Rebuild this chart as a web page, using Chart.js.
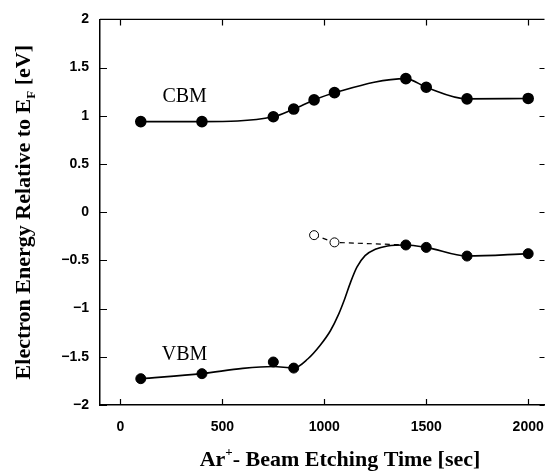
<!DOCTYPE html>
<html>
<head>
<meta charset="utf-8">
<script src="https://cdn.jsdelivr.net/npm/chart.js@4/dist/chart.umd.min.js"></script>
<style>
  html, body { margin: 0; padding: 0; background: #fff; }
  #box { width: 558px; height: 472px; }
</style>
</head>
<body>
<div id="box"><canvas id="bandChart" width="558" height="472"></canvas></div>
<script>
// tick positions
const xTicks = [0, 500, 1000, 1500, 2000];
const yTicks = [-2, -1.5, -1, -0.5, 0, 0.5, 1, 1.5, 2];

// CBM (filled circles, smooth curve through them)
const cbmTimes = [100, 400, 750, 850, 950, 1050, 1400, 1500, 1700, 2000];
const cbmValues = [0.94, 0.94, 0.99, 1.07, 1.165, 1.24, 1.386, 1.296, 1.176, 1.18];

// VBM measured points
const vbmTimes = [100, 400, 750, 850, 1400, 1500, 1700, 2000];
const vbmValues = [-1.727, -1.675, -1.554, -1.617, -0.34, -0.365, -0.455, -0.43];

// VBM guide curve
const vbmCurveTimes = [100, 400, 600, 750, 850, 920, 980, 1030, 1070, 1100, 1130, 1160, 1200, 1250, 1310, 1400, 1500, 1700, 2000];
const vbmCurveValues = [-1.727, -1.675, -1.62, -1.6, -1.617, -1.52, -1.38, -1.23, -1.06, -0.90, -0.72, -0.57, -0.45, -0.385, -0.35, -0.34, -0.365, -0.455, -0.43];

// open circles + dashed link
const openTimes = [950, 1050, 1400];
const openValues = [-0.238, -0.313, -0.34];

const toXY = (xs, ys) => xs.map((x, i) => ({ x: x, y: ys[i] }));

const serif = "'Liberation Serif', 'Times New Roman', serif";
const sans = "'Liberation Sans', Arial, sans-serif";

// inward ticks, top border, titles, band labels
const decorations = {
    id: "decorations",
    afterDraw(chart) {
        const ctx = chart.ctx;
        const area = chart.chartArea;
        const xs = chart.scales.x;
        const ys = chart.scales.y;
        ctx.save();
        ctx.strokeStyle = "#000";
        ctx.lineWidth = 1.2;
        ctx.beginPath();
        // top border
        ctx.moveTo(area.left, area.top);
        ctx.lineTo(area.right, area.top);
        yTicks.forEach(v => {
            const py = Math.round(ys.getPixelForValue(v)) + 0.5;
            ctx.moveTo(area.left, py);
            ctx.lineTo(area.left + 7, py);
            ctx.moveTo(area.right, py);
            ctx.lineTo(area.right - 5, py);
        });
        xTicks.forEach(v => {
            const px = Math.round(xs.getPixelForValue(v)) + 0.5;
            ctx.moveTo(px, area.bottom);
            ctx.lineTo(px, area.bottom - 6);
            ctx.moveTo(px, area.top);
            ctx.lineTo(px, area.top + 6);
        });
        ctx.stroke();

        // band labels
        ctx.fillStyle = "#000";
        ctx.font = "20px " + serif;
        ctx.textAlign = "center";
        ctx.textBaseline = "middle";
        ctx.fillText("CBM", xs.getPixelForValue(315), ys.getPixelForValue(1.2));
        ctx.fillText("VBM", xs.getPixelForValue(315), ys.getPixelForValue(-1.48));

        // x title: Ar+ - Beam Etching Time [sec]
        const big = "bold 22px " + serif;
        const small = "bold 13px " + serif;
        ctx.textAlign = "left";
        ctx.textBaseline = "alphabetic";
        ctx.font = big;
        const wAr = ctx.measureText("Ar").width;
        const wRest = ctx.measureText("- Beam Etching Time [sec]").width;
        ctx.font = small;
        const wPlus = ctx.measureText("+").width;
        let sx = 340 - (wAr + wPlus + wRest) / 2;
        const by = 466;
        ctx.font = big;
        ctx.fillText("Ar", sx, by);
        ctx.font = small;
        ctx.fillText("+", sx + wAr, by - 10);
        ctx.font = big;
        ctx.fillText("- Beam Etching Time [sec]", sx + wAr + wPlus, by);

        // y title: Electron Energy Relative to E_F [eV]
        ctx.translate(30, (area.top + area.bottom) / 2);
        ctx.rotate(-Math.PI / 2);
        ctx.font = big;
        const t1 = "Electron Energy Relative to E";
        const t2 = " [eV]";
        const w1 = ctx.measureText(t1).width;
        const w3 = ctx.measureText(t2).width;
        ctx.font = small;
        const w2 = ctx.measureText("F").width;
        let tx = -(w1 + w2 + w3) / 2;
        ctx.font = big;
        ctx.fillText(t1, tx, 0);
        ctx.font = small;
        ctx.fillText("F", tx + w1, 5);
        ctx.font = big;
        ctx.fillText(t2, tx + w1 + w2, 0);
        ctx.restore();
    }
};

const context = document.querySelector("#bandChart").getContext("2d");
const bandChart = new Chart(context, {
    type: "scatter",
    data: {
        datasets: [
            {
                // CBM curve + markers
                type: "line",
                data: toXY(cbmTimes, cbmValues),
                borderColor: "#000",
                backgroundColor: "#000",
                borderWidth: 1.6,
                cubicInterpolationMode: "monotone",
                pointRadius: 5,
                pointHoverRadius: 5,
                showLine: true,
                fill: false,
            },
            {
                // VBM curve
                type: "line",
                data: toXY(vbmCurveTimes, vbmCurveValues),
                borderColor: "#000",
                borderWidth: 1.6,
                cubicInterpolationMode: "monotone",
                pointRadius: 0,
                showLine: true,
                fill: false,
            },
            {
                // VBM markers
                data: toXY(vbmTimes, vbmValues),
                borderColor: "#000",
                backgroundColor: "#000",
                pointRadius: 5,
                pointHoverRadius: 5,
                showLine: false,
            },
            {
                // open circles, dashed
                type: "line",
                data: toXY(openTimes, openValues),
                borderColor: "#000",
                backgroundColor: "#fff",
                borderWidth: 1.2,
                borderDash: [5, 4],
                pointRadius: [4.5, 4.5, 0],
                pointBorderWidth: 1,
                showLine: true,
                tension: 0,
                fill: false,
            },
        ],
    },
    options: {
        responsive: false,
        animation: false,
        events: [],
        layout: {
            padding: { left: 0, right: 3, top: 18, bottom: 0 }
        },
        scales: {
            x: {
                type: "linear",
                min: -100,
                max: 2080,
                afterBuildTicks: s => { s.ticks = xTicks.map(v => ({ value: v })); },
                afterFit: s => { s.height = 67; },
                grid: { display: false, drawTicks: false },
                border: { display: true, color: "#000", width: 1.5 },
                ticks: {
                    color: "#000",
                    padding: 14,
                    maxRotation: 0,
                    font: { family: sans, size: 14, weight: "bold" },
                    callback: v => String(v),
                },
            },
            y: {
                type: "linear",
                min: -2,
                max: 2,
                afterBuildTicks: s => { s.ticks = yTicks.map(v => ({ value: v })); },
                afterFit: s => { s.width = 100; },
                grid: { display: false, drawTicks: false },
                border: { display: true, color: "#000", width: 1.5 },
                ticks: {
                    color: "#000",
                    padding: 11,
                    font: { family: sans, size: 14, weight: "bold" },
                    callback: v => (v < 0 ? "\u2212" : "") + Math.abs(v),
                },
            },
        },
        plugins: {
            legend: { display: false },
            tooltip: { enabled: false },
        },
    },
    plugins: [decorations],
});
</script>
</body>
</html>
